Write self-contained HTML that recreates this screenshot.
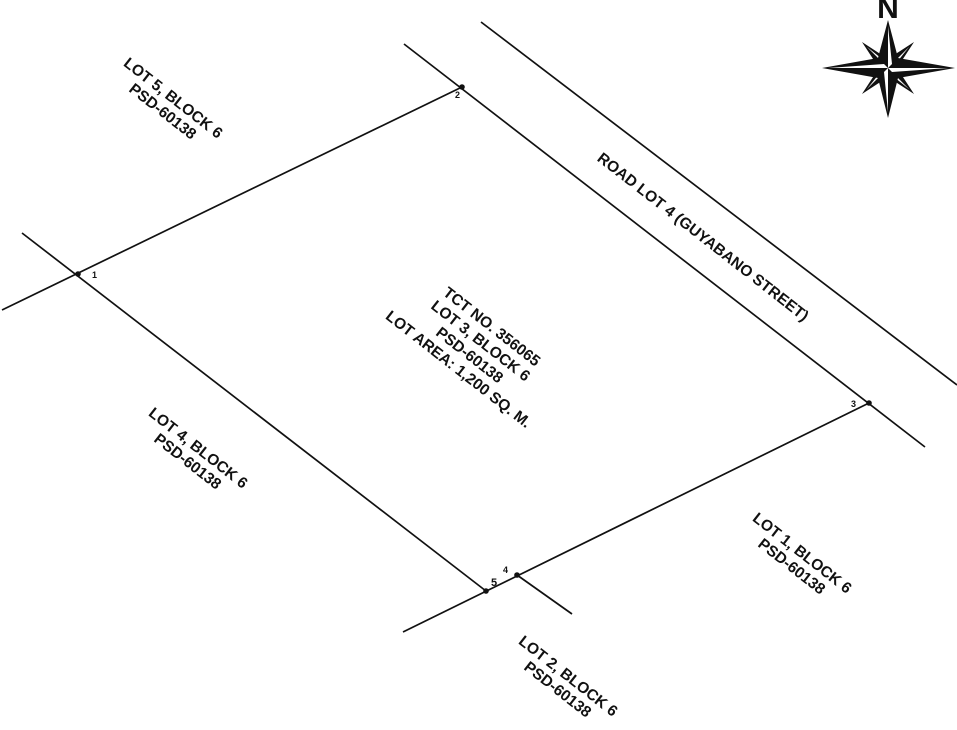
<!DOCTYPE html>
<html><head><meta charset="utf-8"><style>
html,body{margin:0;padding:0;background:#fff;width:957px;height:730px;overflow:hidden}
text{font-family:"Liberation Sans",sans-serif;font-weight:bold;font-size:15.5px;fill:#111}
</style></head><body>
<svg width="957" height="730" viewBox="0 0 957 730" xmlns="http://www.w3.org/2000/svg">
<g stroke="#111" stroke-width="1.7" fill="none">
<line x1="2" y1="310" x2="462" y2="87"/>
<line x1="404" y1="44" x2="925" y2="447"/>
<line x1="481" y1="22" x2="957" y2="385"/>
<line x1="22" y1="233" x2="486" y2="591"/>
<line x1="403" y1="632" x2="869" y2="403"/>
<line x1="517" y1="575" x2="572" y2="614"/>
</g>
<g fill="#111">
<circle cx="78" cy="274" r="2.8"/><circle cx="462" cy="87" r="2.8"/><circle cx="869" cy="403" r="2.8"/><circle cx="517" cy="575" r="2.8"/><circle cx="486" cy="591" r="2.8"/>
</g>
<text x="92" y="278" style="font-size:9px">1</text>
<text x="455" y="98" style="font-size:9px">2</text>
<text x="851" y="407" style="font-size:9px">3</text>
<text x="503" y="573" style="font-size:9px">4</text>
<text x="491" y="586" style="font-size:11px">5</text>
<g text-anchor="middle">
<g transform="rotate(38 167 106)"><text x="167" y="101">LOT 5, BLOCK 6</text><text x="167" y="118">PSD-60138</text></g>
<g transform="rotate(38 703 237)"><text x="703" y="242">ROAD LOT 4 (GUYABANO STREET)</text></g>
<g transform="rotate(38 472 352)"><text x="472" y="325">TCT NO. 356065</text><text x="472" y="343">LOT 3, BLOCK 6</text><text x="472" y="361">PSD-60138</text><text x="472" y="379">LOT AREA: 1,200 SQ. M.</text></g>
<g transform="rotate(38 192 456)"><text x="192" y="451">LOT 4, BLOCK 6</text><text x="192" y="468">PSD-60138</text></g>
<g transform="rotate(38 796 561)"><text x="796" y="556">LOT 1, BLOCK 6</text><text x="796" y="573">PSD-60138</text></g>
<g transform="rotate(38 562 684)"><text x="562" y="679">LOT 2, BLOCK 6</text><text x="562" y="696">PSD-60138</text></g>
</g>
<text x="888" y="18" text-anchor="middle" style="font-size:30px;font-weight:900">N</text>
<g transform="translate(888,68)">
<polygon points="0,-46 8,-8 46,0 8,8 0,46 -8,8 -46,0 -8,-8" fill="#111" transform="rotate(45) scale(0.8)"/>
<polygon points="0,-30 3,-3 0,0" fill="#fff" transform="rotate(45)"/>
<polygon points="0,-30 3,-3 0,0" fill="#fff" transform="rotate(135)"/>
<polygon points="0,-30 3,-3 0,0" fill="#fff" transform="rotate(225)"/>
<polygon points="0,-30 3,-3 0,0" fill="#fff" transform="rotate(315)"/>
<polygon points="0,-48 10,-10 67,0 10,10 0,50 -10,10 -66,0 -10,-10" fill="#111"/>
<polygon points="0,-42 4,-4 0,0" fill="#fff"/>
<polygon points="60,0 4,4 0,0" fill="#fff"/>
<polygon points="0,44 -4,4 0,0" fill="#fff"/>
<polygon points="-60,0 -4,-4 0,0" fill="#fff"/>
</g>
</svg>
</body></html>
